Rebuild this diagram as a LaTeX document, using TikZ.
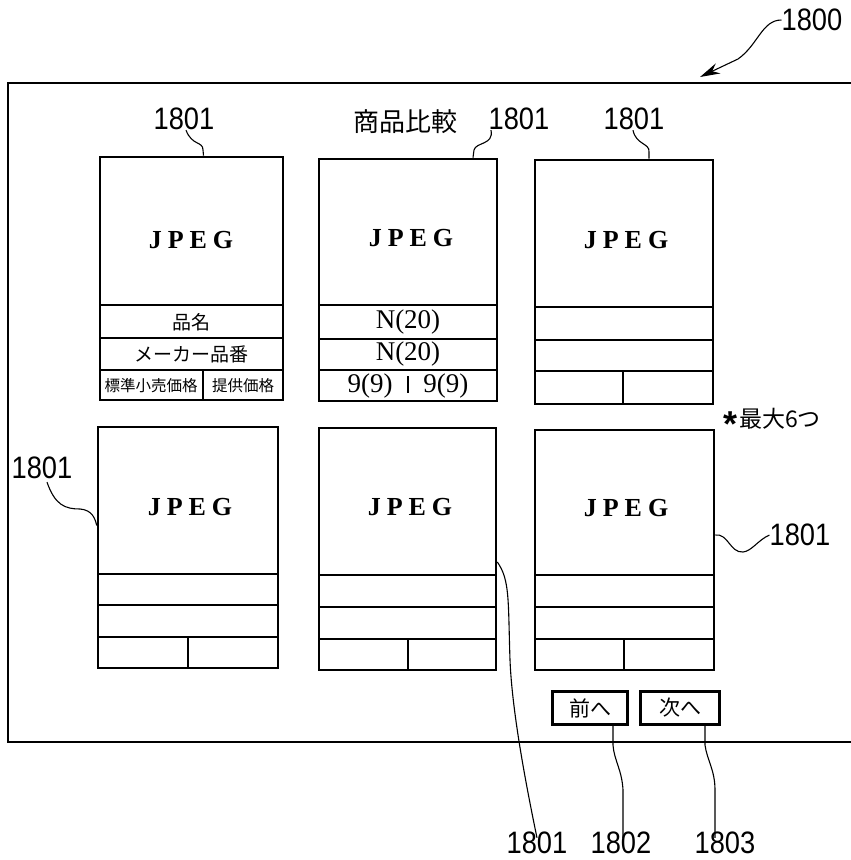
\documentclass[tikz,border=0pt]{standalone}
\usepackage{graphicx}
\usepackage{fontspec}
\setmainfont{Liberation Serif}
\setsansfont{Liberation Sans}
\newfontfamily\jp{Noto Sans CJK JP}
\usetikzlibrary{arrows.meta}
\newcommand\numlbl[1]{{\sffamily\fontsize{31}{31}\selectfont\scalebox{0.88}[1]{#1}}}
\newcommand\jpegtxt{{\bfseries\fontsize{26}{26}\selectfont J\hspace{6pt}P\hspace{6pt}E\hspace{6pt}G}}
\newcommand\cardbox[9]{%
  \pgfmathsetmacro\cw{#4-#2}\pgfmathsetmacro\ch{#5-#3}%
  \node[card, minimum width=\cw pt, minimum height=\ch pt] (#1) at ({(#2+#4)/2},{(#3+#5)/2}) {};
  \draw[inner] (#2,#6) -- (#4,#6) (#2,#7) -- (#4,#7) (#2,#8) -- (#4,#8);
  \if\relax\detokenize{#9}\relax\else\draw[inner] (#9,#8) -- (#9,#5);\fi
}
\begin{document}
\begin{tikzpicture}[x=1pt,y=-1pt,
  card/.style={draw, line width=2.6pt, inner sep=0pt},
  inner/.style={line width=2.2pt},
  frame/.style={line width=2.8pt},
  lead/.style={line width=1.1pt},
  btn/.style={draw, line width=2.4pt, inner sep=0pt, minimum height=33pt, font=\jp\fontsize{21}{21}\selectfont},
  cell/.style={inner sep=0pt, font=\jp\fontsize{19}{19}\selectfont},
  cellsm/.style={inner sep=0pt, font=\jp\fontsize{15.5}{15.5}\selectfont},
  celln/.style={inner sep=0pt, font=\fontsize{27}{27}\selectfont},
  lbl/.style={inner sep=0pt}]
\useasboundingbox (0,0) rectangle (851,860);
% outer frame
\draw[frame] (851,83) -- (8,83) -- (8,742) -- (851,742);
% cards
\cardbox{c1}{100}{157}{283}{400}{305}{338}{370}{203}
\cardbox{c2}{319}{159}{497}{401}{305}{339}{370}{}
\cardbox{c3}{535}{160}{713}{404}{307}{340}{371}{623}
\cardbox{c4}{98}{427}{278}{668}{574}{605}{637}{188}
\cardbox{c5}{319}{428}{496}{670}{575}{607}{639}{408}
\cardbox{c6}{535}{430}{714}{670}{575}{607}{639}{624}
% JPEG texts
\node[lbl] (j1) at (191,240) {\jpegtxt};
\node[lbl] (j2) at (411,238) {\jpegtxt};
\node[lbl] (j3) at (626,240) {\jpegtxt};
\node[lbl] (j4) at (190,507) {\jpegtxt};
\node[lbl] (j5) at (410,507) {\jpegtxt};
\node[lbl] (j6) at (626,508) {\jpegtxt};
% card 1 contents
\node[cell] (t11) at (191,322) {品名};
\node[cell] (t12) at (191,354) {メーカー品番};
\node[cellsm] (t13) at (151,386) {標準小売価格};
\node[cellsm] (t14) at (243,386) {提供価格};
% card 2 contents
\node[celln] (t21) at (408,322) {N(20)};
\node[celln] (t22) at (408,354) {N(20)};
\node[celln] (t23) at (408,386) {9(9)\hspace{14pt}\rule[0pt]{2.6pt}{17pt}\hspace{14pt}9(9)};
% labels
\node[lbl] (l1800) at (812,20) {\numlbl{1800}};
\node[lbl] (l1) at (184,119) {\numlbl{1801}};
\node[lbl, font=\jp\fontsize{26}{26}\selectfont] (title) at (405,122) {商品比較};
\node[lbl] (l2) at (519,119) {\numlbl{1801}};
\node[lbl] (l3) at (634,119) {\numlbl{1801}};
\node[lbl] (l4) at (42,468) {\numlbl{1801}};
\node[lbl] (l6) at (800,535) {\numlbl{1801}};
\node[lbl] (l5) at (537,843) {\numlbl{1801}};
\node[lbl] (l1802) at (621,843) {\numlbl{1802}};
\node[lbl] (l1803) at (725,843) {\numlbl{1803}};
\node[lbl, font=\jp\fontsize{23}{23}\selectfont] (note) at (772,422) {{\sffamily\bfseries\fontsize{36}{36}\selectfont\raisebox{-9pt}{*}}\hspace{2pt}最大6つ};
% buttons
\node[btn, minimum width=75pt] (b1) at (590,708) {前へ};
\node[btn, minimum width=79pt] (b2) at (680,708) {次へ};
% leaders
\draw[lead, -{Stealth[length=20pt,width=11pt]}] (l1800.west) .. controls (762,20) and (758,45) .. (738,59) -- (700,77);
\draw[lead] ([xshift=2pt]l1.south) .. controls (192,146) and (203,141) .. (203,150) -- ([xshift=12pt]c1.north);
\draw[lead] ([xshift=-28pt]l2.south) .. controls (494,145) and (476,142) .. (474,150) -- ([xshift=65pt]c2.north);
\draw[lead] ([xshift=-1pt]l3.south) .. controls (636,145) and (650,143) .. (649,152) -- ([xshift=25pt]c3.north);
\draw[lead] ([xshift=5pt,yshift=-3pt]l4.south) .. controls (55,505) and (65,509) .. (80,509) .. controls (92,510) and (95,518) .. ([yshift=22pt]c4.west);
\draw[lead] ([yshift=15pt]c6.east) .. controls (728,533) and (730,553) .. (743,552) .. controls (752,551) and (758,540) .. (l6.west);
\draw[lead] ([yshift=-13pt]c5.east) .. controls (510,580) and (508,600) .. (510,660) .. controls (512,710) and (525,780) .. ([yshift=-6pt]l5.north);
\draw[lead] ([xshift=23pt]b1.south) -- (613,745) .. controls (614,760) and (622,770) .. (623,790) -- ([xshift=2pt,yshift=-6pt]l1802.north);
\draw[lead] ([xshift=25pt]b2.south) -- (705,745) .. controls (707,760) and (715,770) .. (715,790) -- ([xshift=-10pt,yshift=-6pt]l1803.north);
\end{tikzpicture}
\end{document}
